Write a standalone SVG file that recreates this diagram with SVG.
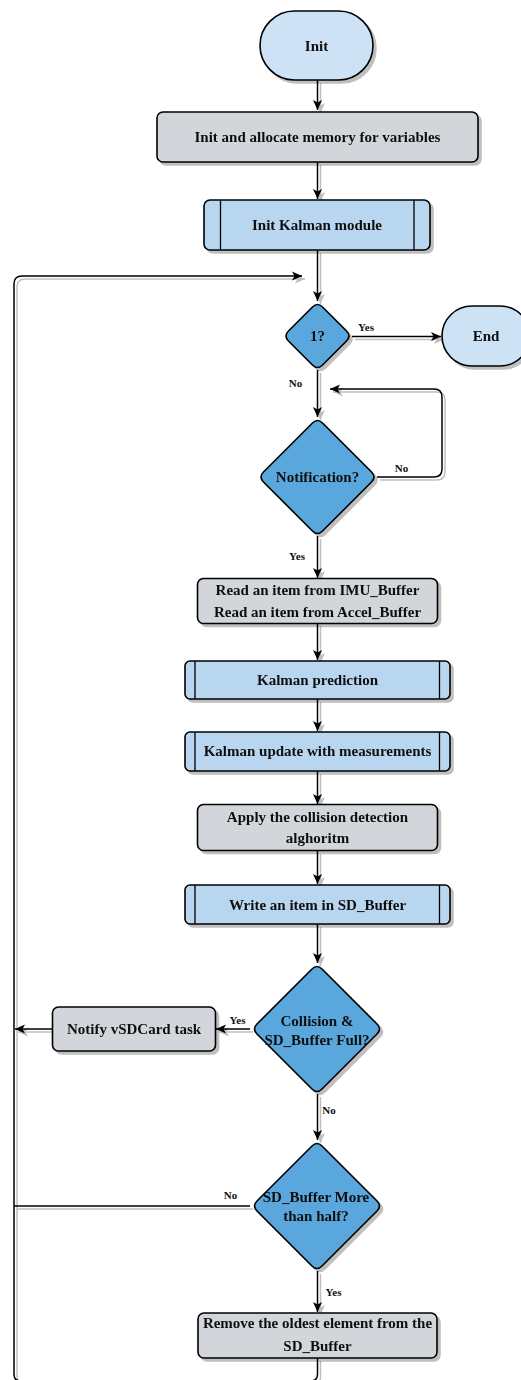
<svg xmlns="http://www.w3.org/2000/svg" width="521" height="1380" viewBox="0 0 521 1380">
  <style>
    .node { stroke: #000; stroke-width: 1.6; }
    .term { fill: #cde2f4; }
    .proc { fill: #d2d5da; }
    .sub { fill: #b8d6ef; }
    .dec { fill: #5aa7de; }
    .inner { stroke: #000; stroke-width: 1.3; fill: none; }
    .lbl { font-family: "Liberation Serif", "Times New Roman", serif; font-weight: bold; font-size: 15px; fill: #111; text-anchor: middle; }
    .edge-lbl { font-family: "Liberation Serif", "Times New Roman", serif; font-weight: bold; font-size: 11px; fill: #111; text-anchor: middle; }
    .conn { fill: none; stroke: #000; stroke-width: 1.5; }
  </style>
  <defs>
    <filter id="shadow" x="-10%" y="-10%" width="130%" height="130%">
      <feGaussianBlur in="SourceAlpha" stdDeviation="0.7" result="b"/>
      <feOffset in="b" dx="2.5" dy="2.5" result="o"/>
      <feFlood flood-color="#000" flood-opacity="0.25"/>
      <feComposite in2="o" operator="in" result="s"/>
      <feMerge>
        <feMergeNode in="s"/>
        <feMergeNode in="SourceGraphic"/>
      </feMerge>
    </filter>
    <marker id="arrow" markerUnits="userSpaceOnUse" markerWidth="11" markerHeight="10" refX="10" refY="5" orient="auto">
      <path d="M0,0.5 L10,5 L0,9.5 L2.5,5 Z" fill="#000"/>
    </marker>
  </defs>

  <!-- connectors -->
  <g id="connectors" filter="url(#shadow)">
    <path class="conn" d="M317.5,80 V110" marker-end="url(#arrow)"/>
    <path class="conn" d="M317.5,162 V199" marker-end="url(#arrow)"/>
    <path class="conn" d="M317.5,250 V301" marker-end="url(#arrow)"/>
    <!-- main loop back to the top -->
    <path class="conn" d="M317.5,1358 V1374 Q317.5,1381 310.5,1381 H21 Q14,1381 14,1374 V284 Q14,276 22,276 H302" marker-end="url(#arrow)"/>
    <path class="conn" d="M352,336.5 H441" marker-end="url(#arrow)"/>
    <path class="conn" d="M317.5,370 V417" marker-end="url(#arrow)"/>
    <!-- wait for notification -->
    <path class="conn" d="M377,477 H434 Q442,477 442,469 V397 Q442,389 434,389 H330" marker-end="url(#arrow)"/>
    <path class="conn" d="M317.5,536 V578" marker-end="url(#arrow)"/>
    <path class="conn" d="M317.5,623 V660" marker-end="url(#arrow)"/>
    <path class="conn" d="M317.5,699 V731" marker-end="url(#arrow)"/>
    <path class="conn" d="M317.5,771 V804" marker-end="url(#arrow)"/>
    <path class="conn" d="M317.5,851 V884" marker-end="url(#arrow)"/>
    <path class="conn" d="M317.5,924 V963" marker-end="url(#arrow)"/>
    <path class="conn" d="M250,1029 H216" marker-end="url(#arrow)"/>
    <path class="conn" d="M52,1029 H15" marker-end="url(#arrow)"/>
    <path class="conn" d="M317.5,1094 V1140" marker-end="url(#arrow)"/>
    <path class="conn" d="M250,1206 H14"/>
    <path class="conn" d="M317.5,1271 V1312" marker-end="url(#arrow)"/>
  </g>

  <!-- connector labels -->
  <g id="edge-labels">
    <text class="edge-lbl" x="366" y="331">Yes</text>
    <text class="edge-lbl" x="295.5" y="386.5">No</text>
    <text class="edge-lbl" x="401.5" y="472">No</text>
    <text class="edge-lbl" x="297" y="559.5">Yes</text>
    <text class="edge-lbl" x="237.5" y="1024">Yes</text>
    <text class="edge-lbl" x="329" y="1114">No</text>
    <text class="edge-lbl" x="230.5" y="1199">No</text>
    <text class="edge-lbl" x="333.5" y="1295.5">Yes</text>
  </g>

  <g id="init" filter="url(#shadow)">
    <rect class="node term" x="260" y="11" width="113" height="69" rx="34.5"/>
    <text class="lbl" x="316.5" y="51">Init</text>
  </g>

  <g id="alloc" filter="url(#shadow)">
    <rect class="node proc" x="157" y="112" width="321" height="50" rx="6"/>
    <text class="lbl" x="317.5" y="142">Init and allocate memory for variables</text>
  </g>

  <g id="init-kalman" filter="url(#shadow)">
    <rect class="node sub" x="204" y="200" width="226" height="50" rx="6"/>
    <path class="inner" d="M220.5,200 V250 M414,200 V250"/>
    <text class="lbl" x="317" y="230">Init Kalman module</text>
  </g>

  <g id="loop-check" filter="url(#shadow)">
    <path class="node dec" d="M312.5,307 Q317.5,302 322.5,307 L346.5,331 Q351.5,336 346.5,341 L322.5,365 Q317.5,370 312.5,365 L288.5,341 Q283.5,336 288.5,331 Z"/>
    <text class="lbl" x="317.5" y="341">1?</text>
  </g>

  <g id="end" filter="url(#shadow)">
    <rect class="node term" x="442" y="306" width="88" height="60" rx="30"/>
    <text class="lbl" x="486" y="341">End</text>
  </g>

  <g id="notification" filter="url(#shadow)">
    <path class="node dec" d="M312.5,423 Q317.5,418 322.5,423 L371.5,472 Q376.5,477 371.5,482 L322.5,531 Q317.5,536 312.5,531 L263.5,482 Q258.5,477 263.5,472 Z"/>
    <text class="lbl" x="317.5" y="482">Notification?</text>
  </g>

  <g id="read-buffers" filter="url(#shadow)">
    <rect class="node proc" x="197.5" y="578.5" width="240" height="45" rx="6"/>
    <text class="lbl" x="317.5" y="595">Read an item from IMU_Buffer</text>
    <text class="lbl" x="317.5" y="617">Read an item from Accel_Buffer</text>
  </g>

  <g id="kalman-prediction" filter="url(#shadow)">
    <rect class="node sub" x="185" y="661" width="265" height="38" rx="5"/>
    <path class="inner" d="M195,661 V699 M439.5,661 V699"/>
    <text class="lbl" x="317.5" y="685">Kalman prediction</text>
  </g>

  <g id="kalman-update" filter="url(#shadow)">
    <rect class="node sub" x="185" y="732" width="265" height="39" rx="5"/>
    <path class="inner" d="M195,732 V771 M439.5,732 V771"/>
    <text class="lbl" x="317.5" y="756">Kalman update with measurements</text>
  </g>

  <g id="collision-detection" filter="url(#shadow)">
    <rect class="node proc" x="197.5" y="804.5" width="240" height="46" rx="6"/>
    <text class="lbl" x="317.5" y="821.5">Apply the collision detection</text>
    <text class="lbl" x="317.5" y="843">alghoritm</text>
  </g>

  <g id="write-sd" filter="url(#shadow)">
    <rect class="node sub" x="185" y="885" width="265" height="39" rx="5"/>
    <path class="inner" d="M195,885 V924 M439.5,885 V924"/>
    <text class="lbl" x="317.5" y="909.5">Write an item in SD_Buffer</text>
  </g>

  <g id="collision-full" filter="url(#shadow)">
    <path class="node dec" d="M312,969 Q317,964 322,969 L377,1024 Q382,1029 377,1034 L322,1089 Q317,1094 312,1089 L257,1034 Q252,1029 257,1024 Z"/>
    <text class="lbl" x="317" y="1025.5">Collision &amp;</text>
    <text class="lbl" x="317" y="1045">SD_Buffer Full?</text>
  </g>

  <g id="notify-sdcard" filter="url(#shadow)">
    <rect class="node proc" x="52.5" y="1007" width="163" height="44" rx="6"/>
    <text class="lbl" x="134" y="1034">Notify vSDCard task</text>
  </g>

  <g id="more-than-half" filter="url(#shadow)">
    <path class="node dec" d="M312,1146 Q317,1141 322,1146 L377,1201 Q382,1206 377,1211 L322,1266 Q317,1271 312,1266 L257,1211 Q252,1206 257,1201 Z"/>
    <text class="lbl" x="316" y="1201.5">SD_Buffer More</text>
    <text class="lbl" x="316" y="1221">than half?</text>
  </g>

  <g id="remove-oldest" filter="url(#shadow)">
    <rect class="node proc" x="198" y="1313" width="239" height="45" rx="6"/>
    <text class="lbl" x="317.5" y="1328">Remove the oldest element from the</text>
    <text class="lbl" x="317.5" y="1351">SD_Buffer</text>
  </g>
</svg>
